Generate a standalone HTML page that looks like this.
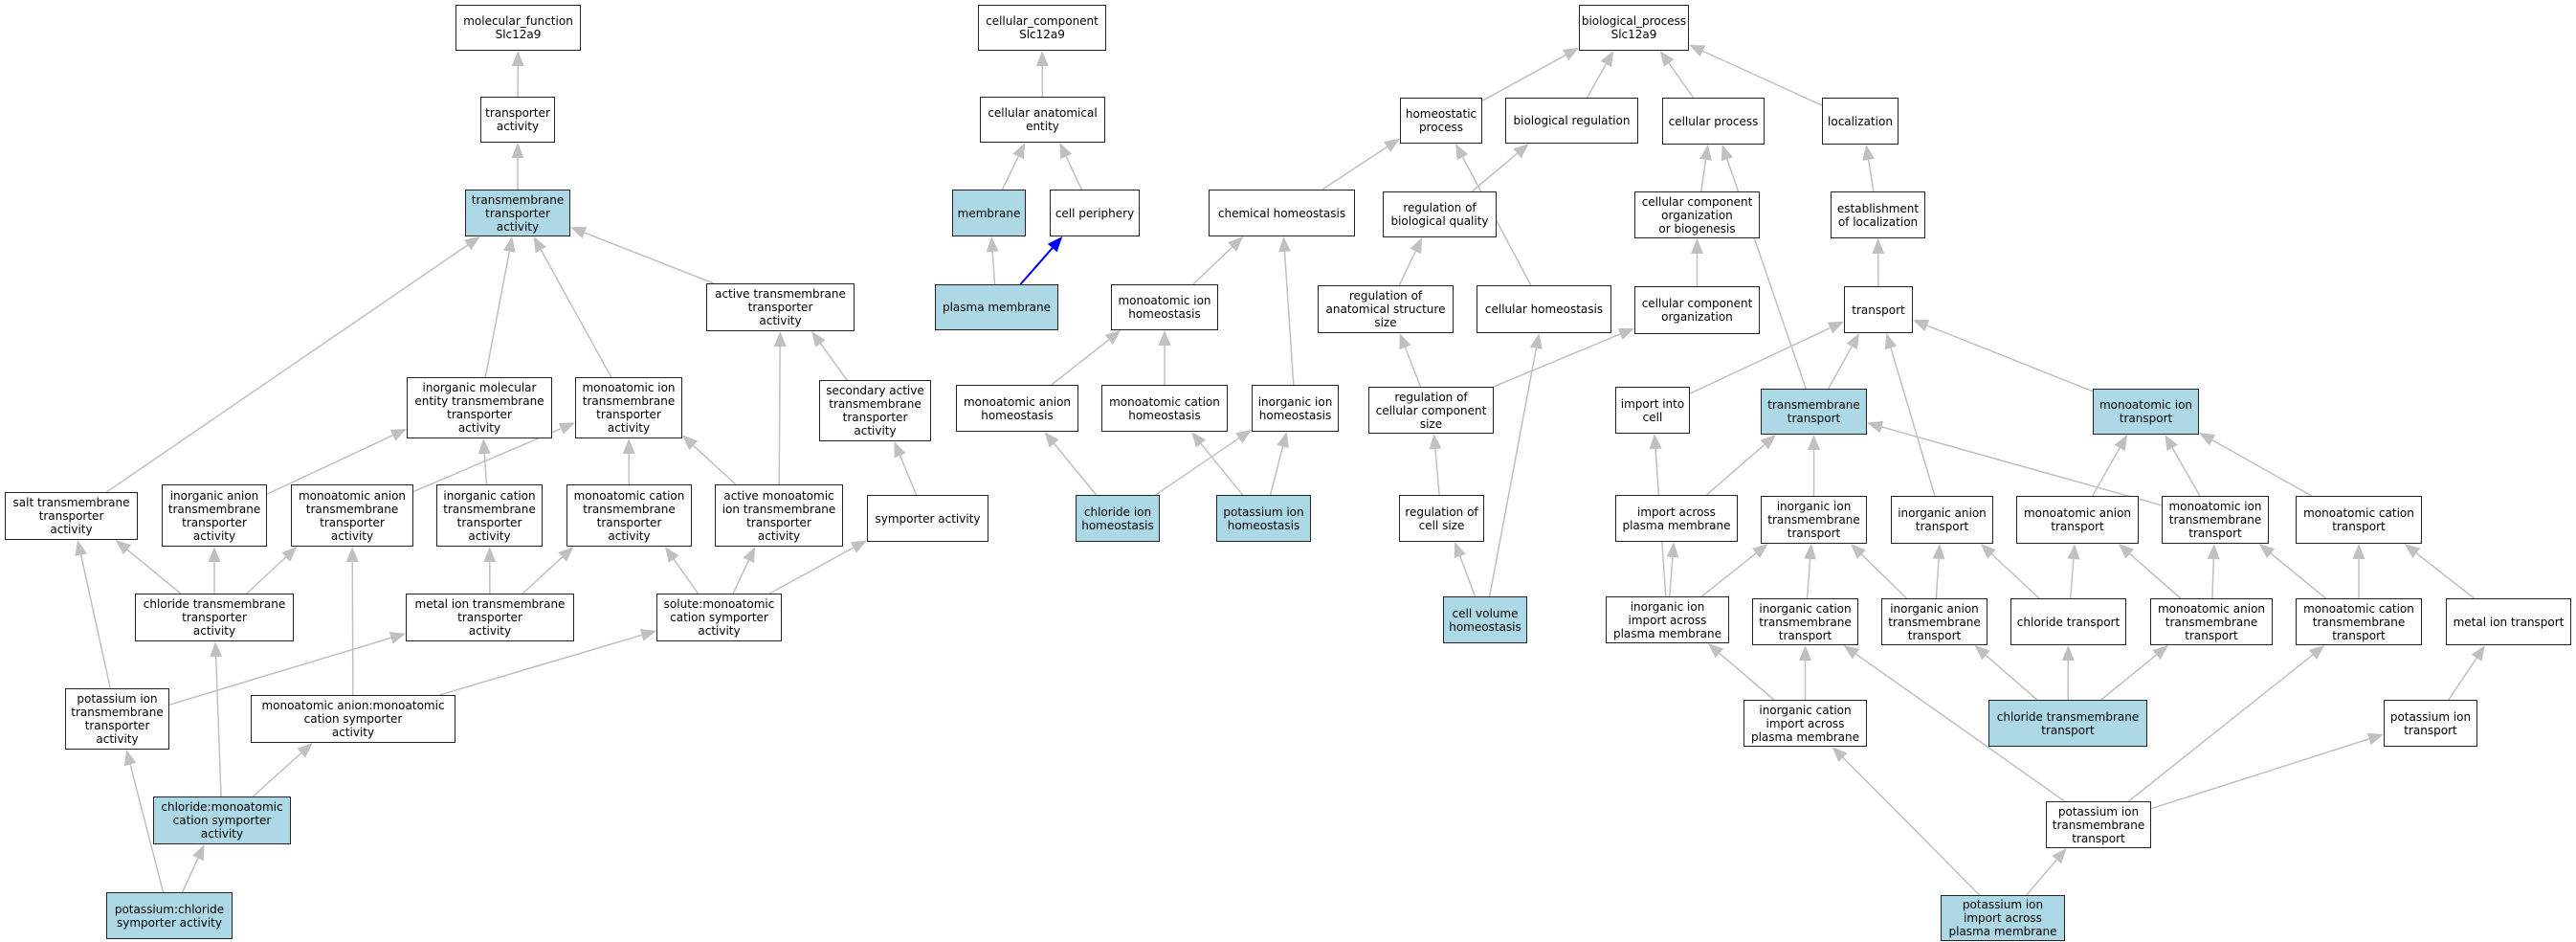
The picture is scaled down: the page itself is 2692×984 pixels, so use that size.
<!DOCTYPE html>
<html><head><meta charset="utf-8">
<style>
html,body{margin:0;padding:0;background:#fff;}
#c{position:relative;width:2692px;height:984px;overflow:hidden;background:#fff;}
svg{position:absolute;left:0;top:0;}
.n{position:absolute;box-sizing:border-box;border:1.5px solid #222;background:#fff;display:flex;align-items:center;justify-content:center;text-align:center;font-family:"DejaVu Sans","Liberation Sans",sans-serif;font-size:12px;line-height:14px;color:#000;white-space:nowrap;}
.b{background:#add8e6;}
</style></head><body>
<div id="c">
<svg id="s" width="2692" height="984" viewBox="0 0 2692 984"></svg>
<div class="n" id="mf">molecular_function<br>Slc12a9</div>
<div class="n" id="ta">transporter<br>activity</div>
<div class="n b" id="tta">transmembrane<br>transporter<br>activity</div>
<div class="n" id="ata">active transmembrane<br>transporter<br>activity</div>
<div class="n" id="imetta">inorganic molecular<br>entity transmembrane<br>transporter<br>activity</div>
<div class="n" id="mitta">monoatomic ion<br>transmembrane<br>transporter<br>activity</div>
<div class="n" id="satta">secondary active<br>transmembrane<br>transporter<br>activity</div>
<div class="n" id="salt">salt transmembrane<br>transporter<br>activity</div>
<div class="n" id="iatta">inorganic anion<br>transmembrane<br>transporter<br>activity</div>
<div class="n" id="matta">monoatomic anion<br>transmembrane<br>transporter<br>activity</div>
<div class="n" id="icta">inorganic cation<br>transmembrane<br>transporter<br>activity</div>
<div class="n" id="mcta">monoatomic cation<br>transmembrane<br>transporter<br>activity</div>
<div class="n" id="amita">active monoatomic<br>ion transmembrane<br>transporter<br>activity</div>
<div class="n" id="sym">symporter activity</div>
<div class="n" id="cltta">chloride transmembrane<br>transporter<br>activity</div>
<div class="n" id="metta">metal ion transmembrane<br>transporter<br>activity</div>
<div class="n" id="sol">solute:monoatomic<br>cation symporter<br>activity</div>
<div class="n" id="kitta">potassium ion<br>transmembrane<br>transporter<br>activity</div>
<div class="n" id="macs">monoatomic anion:monoatomic<br>cation symporter<br>activity</div>
<div class="n b" id="clmcs">chloride:monoatomic<br>cation symporter<br>activity</div>
<div class="n b" id="kcs">potassium:chloride<br>symporter activity</div>

<div class="n" id="cc">cellular_component<br>Slc12a9</div>
<div class="n" id="cae">cellular anatomical<br>entity</div>
<div class="n b" id="mem">membrane</div>
<div class="n" id="cp">cell periphery</div>
<div class="n b" id="pm">plasma membrane</div>

<div class="n" id="bp">biological_process<br>Slc12a9</div>
<div class="n" id="hp">homeostatic<br>process</div>
<div class="n" id="br">biological regulation</div>
<div class="n" id="cpr">cellular process</div>
<div class="n" id="loc">localization</div>
<div class="n" id="ch">chemical homeostasis</div>
<div class="n" id="rbq">regulation of<br>biological quality</div>
<div class="n" id="cccob">cellular component<br>organization<br>or biogenesis</div>
<div class="n" id="est">establishment<br>of localization</div>
<div class="n" id="mih">monoatomic ion<br>homeostasis</div>
<div class="n" id="rass">regulation of<br>anatomical structure<br>size</div>
<div class="n" id="chs">cellular homeostasis</div>
<div class="n" id="cco">cellular component<br>organization</div>
<div class="n" id="tr">transport</div>
<div class="n" id="mah">monoatomic anion<br>homeostasis</div>
<div class="n" id="mch">monoatomic cation<br>homeostasis</div>
<div class="n" id="iih">inorganic ion<br>homeostasis</div>
<div class="n" id="rccs">regulation of<br>cellular component<br>size</div>
<div class="n" id="iic">import into<br>cell</div>
<div class="n b" id="tmt">transmembrane<br>transport</div>
<div class="n b" id="mit">monoatomic ion<br>transport</div>
<div class="n b" id="clh">chloride ion<br>homeostasis</div>
<div class="n b" id="kh">potassium ion<br>homeostasis</div>
<div class="n" id="rcs">regulation of<br>cell size</div>
<div class="n" id="iapm">import across<br>plasma membrane</div>
<div class="n" id="iitt">inorganic ion<br>transmembrane<br>transport</div>
<div class="n" id="iat">inorganic anion<br>transport</div>
<div class="n" id="mat">monoatomic anion<br>transport</div>
<div class="n" id="mitt">monoatomic ion<br>transmembrane<br>transport</div>
<div class="n" id="mct">monoatomic cation<br>transport</div>
<div class="n b" id="cvh">cell volume<br>homeostasis</div>
<div class="n" id="iiipm">inorganic ion<br>import across<br>plasma membrane</div>
<div class="n" id="ictt">inorganic cation<br>transmembrane<br>transport</div>
<div class="n" id="iatt">inorganic anion<br>transmembrane<br>transport</div>
<div class="n" id="clt">chloride transport</div>
<div class="n" id="matt">monoatomic anion<br>transmembrane<br>transport</div>
<div class="n" id="mctt">monoatomic cation<br>transmembrane<br>transport</div>
<div class="n" id="mett">metal ion transport</div>
<div class="n" id="icipm">inorganic cation<br>import across<br>plasma membrane</div>
<div class="n b" id="cltt">chloride transmembrane<br>transport</div>
<div class="n" id="kt">potassium ion<br>transport</div>
<div class="n" id="ktt">potassium ion<br>transmembrane<br>transport</div>
<div class="n b" id="kipm">potassium ion<br>import across<br>plasma membrane</div>
</div>
<script>
var B={
mf:[476,5,607,53],ta:[502,101,580,149],tta:[486,198,596,247],ata:[738,296,893,346],
imetta:[425,394,577,458],mitta:[601,394,713,458],satta:[856,397,973,461],
salt:[5,514,144,564],iatta:[169,506,279,571],matta:[304,506,432,571],icta:[456,506,567,571],
mcta:[592,506,723,571],amita:[747,506,881,571],sym:[906,517,1033,566],
cltta:[141,620,307,670],metta:[424,620,600,670],sol:[686,620,817,670],
kitta:[68,719,177,783],macs:[262,726,476,776],clmcs:[160,832,304,882],kcs:[111,932,243,981],
cc:[1022,5,1156,53],cae:[1024,101,1155,149],mem:[995,198,1072,247],cp:[1097,198,1191,247],pm:[977,297,1106,345],
bp:[1650,5,1765,53],hp:[1463,102,1549,150],br:[1573,102,1712,150],cpr:[1737,102,1844,151],loc:[1904,102,1984,151],
ch:[1263,198,1416,247],rbq:[1445,200,1564,248],cccob:[1708,200,1839,249],est:[1913,200,2012,249],
mih:[1161,297,1273,345],rass:[1377,298,1519,348],chs:[1543,298,1684,348],cco:[1708,299,1839,349],tr:[1927,299,1999,348],
mah:[999,402,1127,451],mch:[1151,402,1283,451],iih:[1308,402,1399,451],rccs:[1430,404,1561,453],
iic:[1688,404,1766,453],tmt:[1840,406,1951,454],mit:[2187,406,2298,454],
clh:[1124,517,1212,566],kh:[1271,517,1370,566],rcs:[1462,517,1551,566],iapm:[1688,517,1816,566],
iitt:[1840,518,1951,568],iat:[1976,518,2083,568],mat:[2107,518,2235,568],mitt:[2259,518,2371,568],mct:[2399,518,2531,568],
cvh:[1508,623,1596,672],iiipm:[1678,623,1807,672],ictt:[1831,625,1942,674],iatt:[1966,625,2077,674],
clt:[2101,625,2222,674],matt:[2247,625,2375,674],mctt:[2399,625,2531,674],mett:[2556,625,2687,674],
icipm:[1822,731,1951,780],cltt:[2078,731,2244,780],kt:[2491,731,2589,780],ktt:[2138,837,2248,886],kipm:[2028,935,2158,983]
};
var E="ta mf,tta ta,ata tta,imetta tta,mitta tta,salt tta,satta ata,amita ata,amita mitta,iatta imetta,matta mitta,icta imetta,mcta mitta,cltta salt,cltta iatta,cltta matta,metta icta,metta mcta,sol mcta,sol amita,sol sym,kitta salt,kitta metta,macs matta,macs sol,clmcs cltta,clmcs macs,kcs kitta,kcs clmcs,sym satta,"+
"cae cc,mem cae,cp cae,pm mem,pm cp,"+
"hp bp,br bp,cpr bp,loc bp,ch hp,rbq br,cccob cpr,est loc,mih ch,iih ch,chs hp,rass rbq,cco cccob,tr est,mah mih,mch mih,clh mah,clh iih,kh mch,kh iih,rccs rass,rccs cco,rcs rccs,cvh rcs,cvh chs,iic tr,tmt tr,tmt cpr,mit tr,iat tr,iapm tmt,iitt tmt,mitt tmt,mitt mit,mat mit,mct mit,iiipm iic,iiipm iapm,iiipm iitt,ictt iitt,iatt iitt,iatt iat,clt iat,clt mat,matt mat,matt mitt,mctt mitt,mctt mct,mett mct,icipm iiipm,icipm ictt,cltt iatt,cltt clt,cltt matt,kt mett,ktt ictt,ktt mctt,ktt kt,kipm icipm,kipm ktt";
var k;
for(k in B){var d=document.getElementById(k),b=B[k];d.style.left=b[0]+'px';d.style.top=b[1]+'px';d.style.width=(b[2]-b[0])+'px';d.style.height=(b[3]-b[1])+'px';}
function cen(b){return [(b[0]+b[2])/2,(b[1]+b[3])/2];}
function clip(b,dx,dy){var hw=(b[2]-b[0])/2,hh=(b[3]-b[1])/2,t=1e9;if(dx)t=Math.min(t,hw/Math.abs(dx));if(dy)t=Math.min(t,hh/Math.abs(dy));return t;}
var s=document.getElementById('s'),h='';
E.split(',').forEach(function(p){var a=p.split(' '),c=B[a[0]],q=B[a[1]];
var c1=cen(c),c2=cen(q);
var x1=c1[0],y1=c[1];
var ddx=c2[0]-x1,ddy=c2[1]-y1;
var t=1-clip(q,ddx,ddy);
var px=x1+ddx*t,py=y1+ddy*t;
var ex=c1[0]-c2[0],ey=c1[1]-c2[1];var tc=clip(c,ex,ey);
var sx=c1[0]-ex*tc,sy=c1[1]-ey*tc;
var L=Math.hypot(px-sx,py-sy),ux=(px-sx)/L,uy=(py-sy)/L;
var blue=(a[0]=='pm'&&a[1]=='cp');
var col=blue?'#0000ff':'#c0c0c0';
var bx=px-ux*16,by=py-uy*16;
h+='<line x1="'+sx+'" y1="'+sy+'" x2="'+bx+'" y2="'+by+'" stroke="'+col+'" stroke-width="'+(blue?2:1.5)+'"/>';
h+='<polygon points="'+px+','+py+' '+(bx-uy*6.5)+','+(by+ux*6.5)+' '+(bx+uy*6.5)+','+(by-ux*6.5)+'" fill="'+col+'"/>';
});
s.innerHTML=h;
</script>
</body></html>
